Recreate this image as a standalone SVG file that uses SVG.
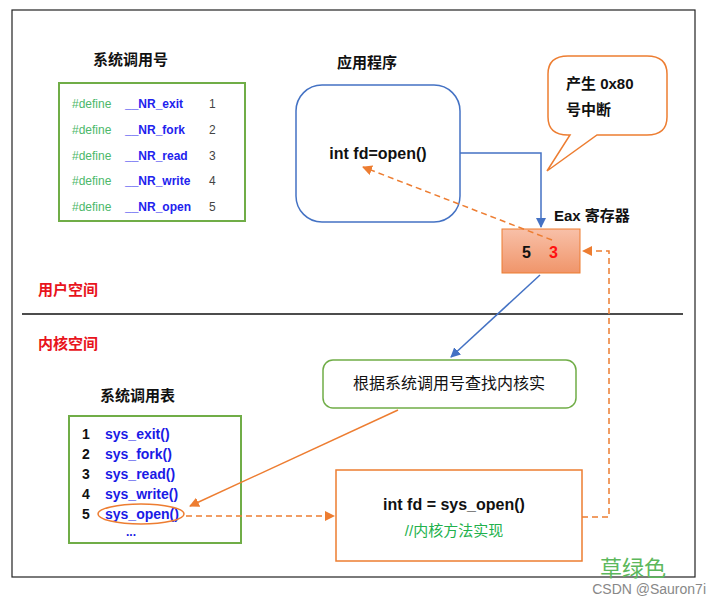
<svg xmlns="http://www.w3.org/2000/svg" width="720" height="603" viewBox="0 0 720 603">
<style>
text{font-family:"Liberation Sans","Noto Sans CJK SC",sans-serif}
.b{font-weight:bold}
.t{font-size:15px;font-weight:bold;fill:#111}
.d{font-size:12px;fill:#4cb86a}
.n{font-size:12px;font-weight:bold;fill:#2222ee}
.num{font-size:12px;fill:#444}
.s{font-size:14px;fill:#1a1ae6;font-weight:bold}
.k{font-size:14px;font-weight:bold;fill:#111}
.o{fill:none;stroke:#ed7d31;stroke-width:1.5}
.od{fill:none;stroke:#ed7d31;stroke-width:1.5;stroke-dasharray:6,4}
.bl{fill:none;stroke:#4472c4;stroke-width:1.5}
.g{fill:none;stroke:#70ad47;stroke-width:2}
</style>
<defs>
<marker id="ao" markerWidth="10" markerHeight="10" refX="9" refY="5" orient="auto" markerUnits="userSpaceOnUse"><path d="M0,0 L10,5 L0,10 z" fill="#ed7d31"/></marker>
<marker id="ab" markerWidth="10" markerHeight="10" refX="9" refY="5" orient="auto" markerUnits="userSpaceOnUse"><path d="M0,0 L10,5 L0,10 z" fill="#4472c4"/></marker>
<linearGradient id="gr" x1="0" y1="0" x2="0" y2="1"><stop offset="0" stop-color="#f8c0a8"/><stop offset="1" stop-color="#f0956a"/></linearGradient>
</defs>
<rect width="720" height="603" fill="#fff"/>
<rect x="12" y="10" width="683" height="567" fill="none" stroke="#222" stroke-width="1.2"/>
<line x1="22" y1="314" x2="683" y2="314" stroke="#111" stroke-width="1.5"/>
<text x="38" y="295" font-size="15" class="b" fill="#e8141c">用户空间</text>
<text x="38" y="349" font-size="15" class="b" fill="#e8141c">内核空间</text>

<g id="syscall-numbers">
<text x="93" y="65" class="t">系统调用号</text>
<rect x="59" y="83" width="186" height="138" class="g"/>
<text x="72" y="108" class="d">#define</text><text x="125" y="108" class="n">__NR_exit</text><text x="209" y="108" class="num">1</text>
<text x="72" y="134" class="d">#define</text><text x="125" y="134" class="n">__NR_fork</text><text x="209" y="134" class="num">2</text>
<text x="72" y="160" class="d">#define</text><text x="125" y="160" class="n">__NR_read</text><text x="209" y="160" class="num">3</text>
<text x="72" y="185" class="d">#define</text><text x="125" y="185" class="n">__NR_write</text><text x="209" y="185" class="num">4</text>
<text x="72" y="211" class="d">#define</text><text x="125" y="211" class="n">__NR_open</text><text x="209" y="211" class="num">5</text>
</g>

<g id="app">
<text x="337" y="68" class="t">应用程序</text>
<rect x="296" y="85" width="164" height="137" rx="26" fill="#fff" stroke="#4472c4" stroke-width="1.5"/>
<text x="378" y="159" text-anchor="middle" font-size="16" class="b" fill="#111">int fd=open()</text>
</g>

<g id="callout">
<path d="M568,56 H647 Q667,56 667,74 V117 Q667,135 647,135 H597 L547,171 L570,135 H568 Q548,135 548,117 V74 Q548,56 568,56 Z" fill="#fff" stroke="#ed7d31" stroke-width="1.5"/>
<text x="566" y="89" font-size="15" class="b" fill="#111">产生 0x80</text>
<text x="566" y="115" font-size="15" class="b" fill="#111">号中断</text>
</g>

<g id="eax">
<text x="554" y="221" class="t">Eax 寄存器</text>
<rect x="502" y="229" width="78" height="44" fill="url(#gr)" stroke="#ed7d31" stroke-width="1"/>
<text x="522" y="258" font-size="16" class="b" fill="#111">5</text>
<text x="549" y="258" font-size="16" class="b" fill="#ff1010">3</text>
</g>

<g id="lookup">
<rect x="323" y="360" width="253" height="48" rx="10" fill="#fff" stroke="#70ad47" stroke-width="1.5"/>
<text x="449" y="389" text-anchor="middle" font-size="16" fill="#111">根据系统调用号查找内核实</text>
</g>

<g id="syscall-table">
<text x="100" y="401" class="t">系统调用表</text>
<rect x="69" y="416" width="172" height="127" class="g"/>
<text x="82" y="439" class="k">1</text><text x="105" y="439" class="s">sys_exit()</text>
<text x="82" y="459" class="k">2</text><text x="105" y="459" class="s">sys_fork()</text>
<text x="82" y="479" class="k">3</text><text x="105" y="479" class="s">sys_read()</text>
<text x="82" y="499" class="k">4</text><text x="105" y="499" class="s">sys_write()</text>
<text x="82" y="519" class="k">5</text><text x="105" y="519" class="s">sys_open()</text>
<text x="126" y="536" font-size="12" class="b" fill="#1a1ae6">...</text>
<ellipse cx="141" cy="514" rx="43" ry="10" class="o"/>
</g>

<g id="sys-open">
<rect x="336" y="470" width="246" height="91" fill="#fff" stroke="#ed7d31" stroke-width="1.5"/>
<text x="454" y="510" text-anchor="middle" font-size="16" class="b" fill="#111">int fd = sys_open()</text>
<text x="454" y="536" text-anchor="middle" font-size="15" fill="#22b14c">//内核方法实现</text>
</g>

<g id="connectors">
<path d="M460,153 H541 V227" class="bl" marker-end="url(#ab)"/>
<path d="M552,240 L363,167" class="od" marker-end="url(#ao)"/>
<path d="M540,275 L451,357" class="bl" marker-end="url(#ab)"/>
<path d="M398,410 L190,506" class="o" marker-end="url(#ao)"/>
<path d="M186,516 H334" class="od" marker-end="url(#ao)"/>
<path d="M582,517 H609 V251 H583" class="od" marker-end="url(#ao)"/>
</g>

<text x="600" y="576" font-size="22" fill="#5cb85c">草绿色</text>
<text x="706" y="594" text-anchor="end" font-size="14" fill="#888">CSDN @Sauron7i</text>
</svg>
